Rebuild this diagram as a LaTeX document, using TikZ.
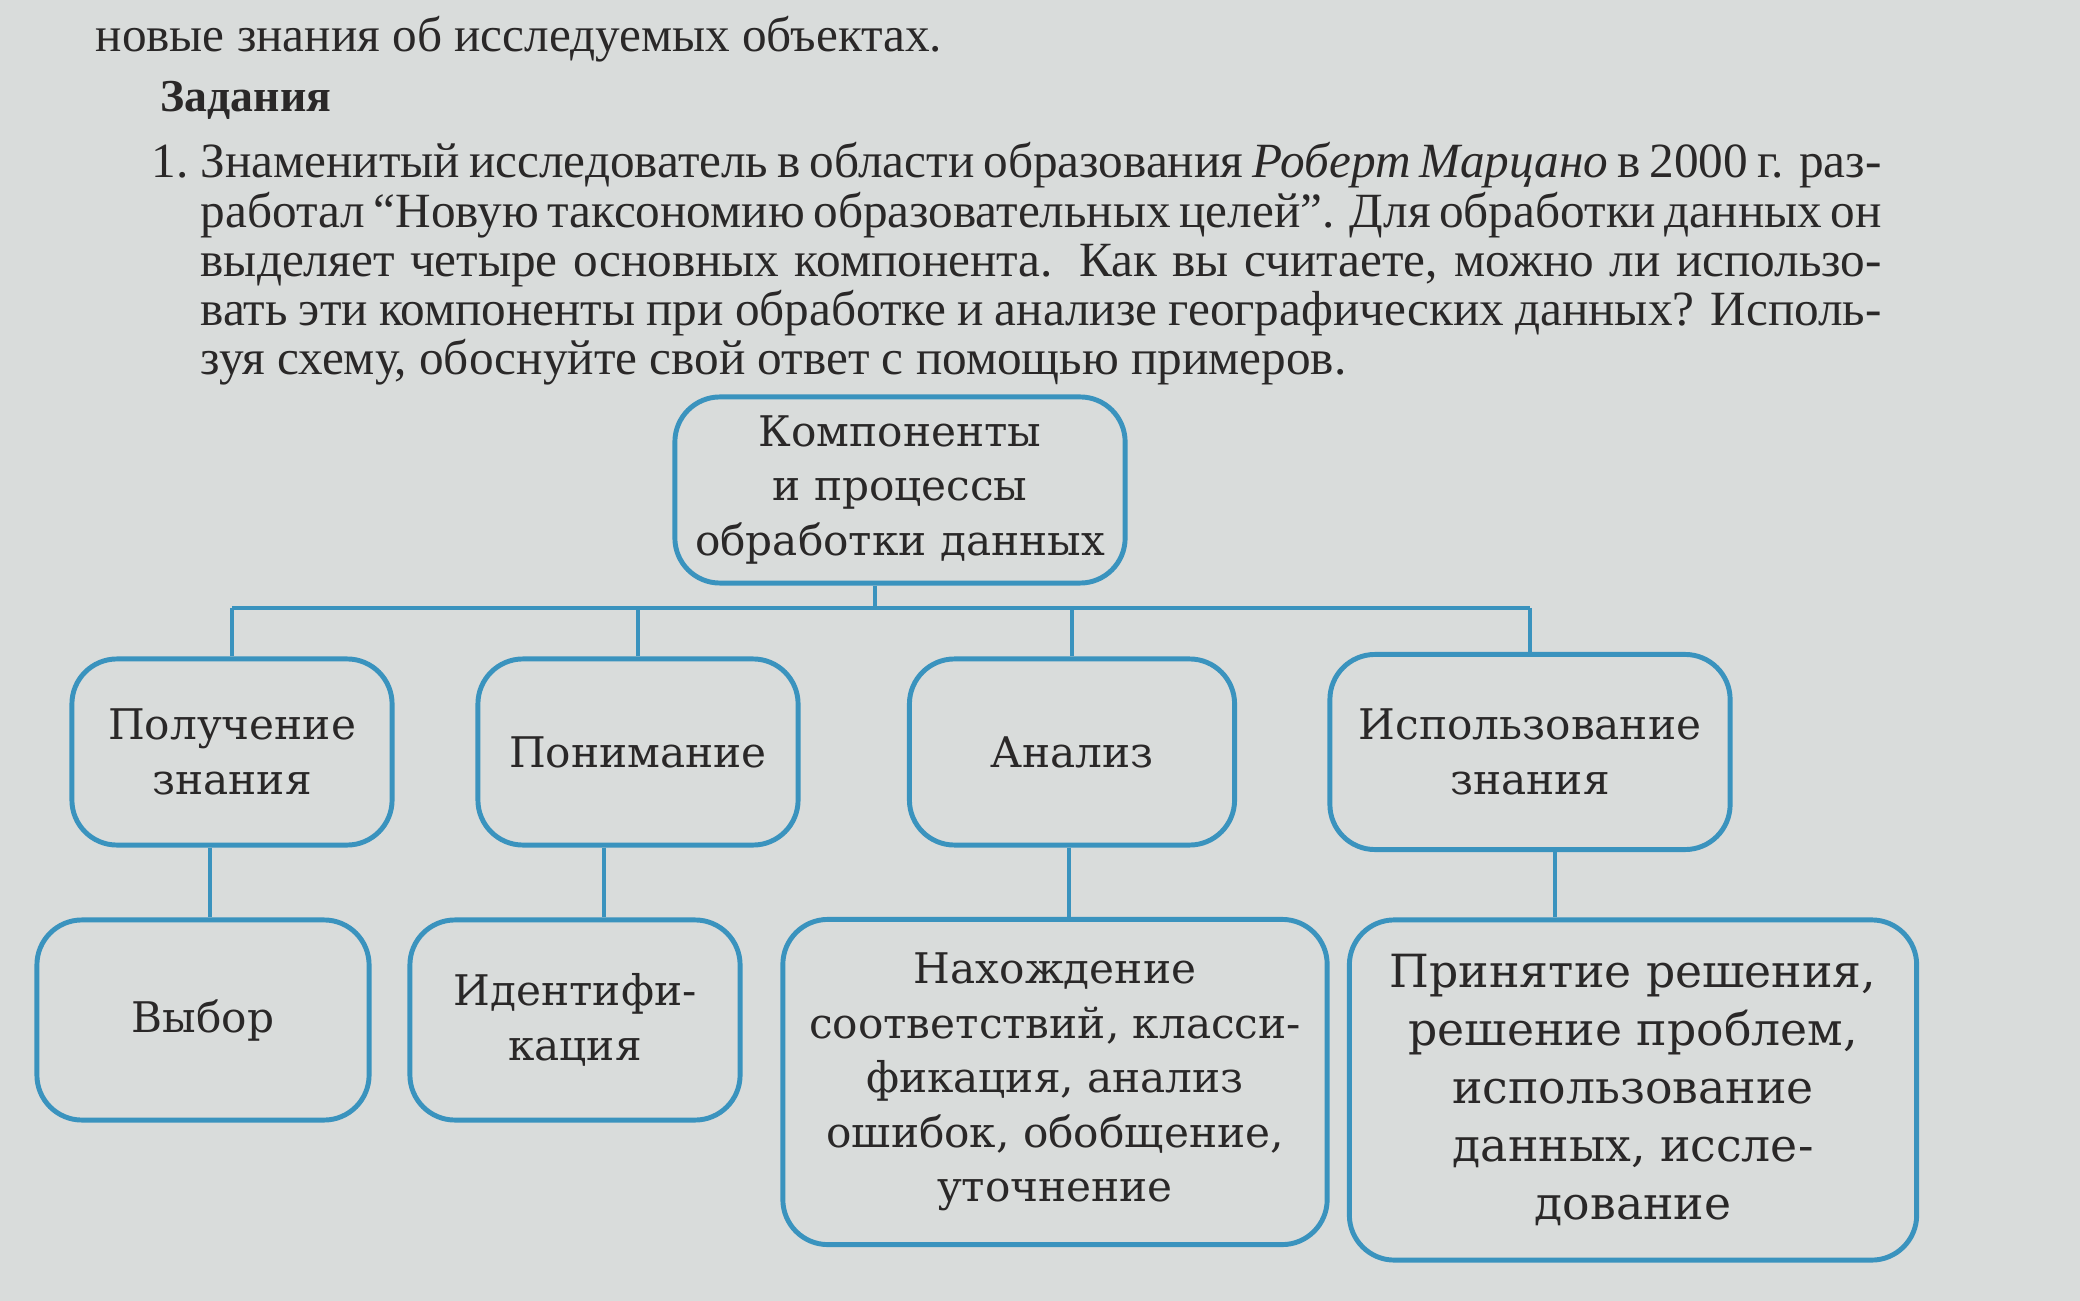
\documentclass[tikz,border=0pt]{standalone}
\usepackage{fontspec}
\setmainfont{Liberation Serif}
\newfontfamily\schemefont{DejaVu Serif}
\definecolor{paper}{HTML}{D9DCDB}
\definecolor{frame}{HTML}{3A93BE}
\definecolor{ink}{HTML}{2A2828}

\begin{document}
\begin{tikzpicture}[x=0.01cm, y=-0.01cm,
	box/.style={draw=frame, line width=1.4pt, rounded corners=0.45cm, align=center,
		font=\schemefont\fontsize{12}{15.5}\selectfont, text=ink, inner sep=2pt},
	link/.style={draw=frame, line width=1.1pt},
	body/.style={text=ink, font=\fontsize{14}{14}\selectfont, inner sep=0pt}]
	\fill[paper] (0,0) rectangle (2080,1301);
	\useasboundingbox (0,0) rectangle (2080,1301);

	% text of the page
	\node[body, anchor=base west] (prev) at (95,52) {новые знания об исследуемых объектах.};
	\node[body, anchor=base west, font=\bfseries\fontsize{13}{14}\selectfont] (task) at (160,112) {Задания};
	\node[body, anchor=north west, text width=16.8cm, align=justify] (q1) at (200,142)
		{\leavevmode\llap{1.\ }Знаменитый исследователь в области образования \textit{Роберт Марцано} в 2000 г. раз-\linebreak
		работал “Новую таксономию образовательных целей”. Для обработки данных он\linebreak
		выделяет четыре основных компонента. Как вы считаете, можно ли использо-\linebreak
		вать эти компоненты при обработке и анализе географических данных? Исполь-\linebreak
		зуя схему, обоснуйте свой ответ с помощью примеров.\par};

	% scheme
	\node[box, minimum width=4.5cm, minimum height=1.86cm] (comp) at (900,490) {Компоненты\\и процессы\\обработки данных};

	\node[box, minimum width=3.2cm, minimum height=1.86cm] (get) at (232,752) {Получение\\знания};
	\node[box, minimum width=3.2cm, minimum height=1.86cm] (und) at (638,752) {Понимание};
	\node[box, minimum width=3.25cm, minimum height=1.86cm] (ana) at (1072,752) {Анализ};
	\node[box, minimum width=4.0cm, minimum height=1.95cm] (use) at (1530,752) {Использование\\знания};

	\node[box, minimum width=3.32cm, minimum height=2cm] (sel) at (203,1020) {Выбор};
	\node[box, minimum width=3.3cm, minimum height=2cm] (ident) at (575,1020) {Идентифи-\\кация};
	\node[box, minimum width=5.44cm, minimum height=3.25cm] (find) at (1055,1082)
		{Нахождение\\соответствий, класси-\\фикация, анализ\\ошибок, обобщение,\\уточнение};
	\node[box, minimum width=5.67cm, minimum height=3.4cm, font=\schemefont\fontsize{13}{16.5}\selectfont] (dec) at (1633,1090)
		{Принятие решения,\\решение проблем,\\использование\\данных, иссле-\\дование};

	\coordinate (bus) at (875,608);
	\draw[link] (comp.south -| bus) -- (bus);
	\draw[link] (get.north |- bus) -- (use.north |- bus);
	\foreach \n in {get,und,ana,use}
		\draw[link] (\n.north |- bus) -- (\n.north);

	\foreach \up/\down/\x in {get/sel/210, und/ident/604, ana/find/1069, use/dec/1555} {
		\coordinate (drop) at (\x,0);
		\draw[link] (\up.south -| drop) -- (\down.north -| drop);
	}
\end{tikzpicture}
\end{document}
